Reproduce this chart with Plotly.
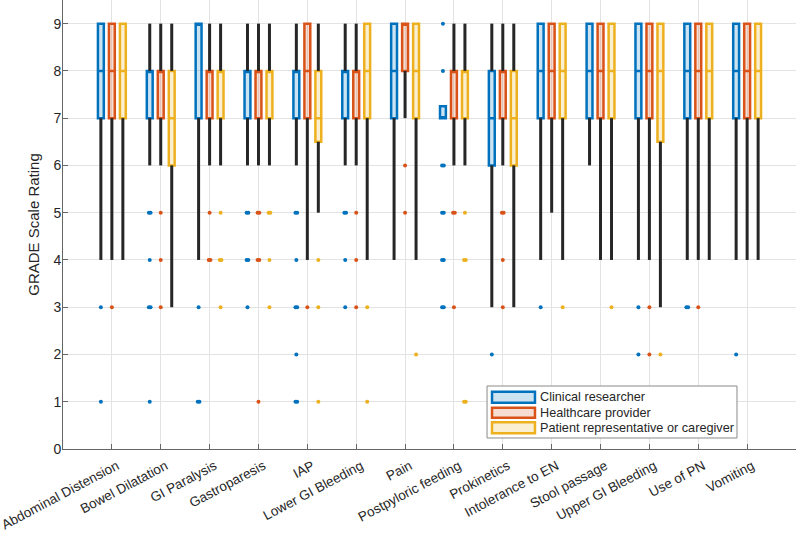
import plotly.graph_objects as go

categories = ["Abdominal Distension", "Bowel Dilatation", "GI Paralysis", "Gastroparesis",
              "IAP", "Lower GI Bleeding", "Pain", "Postpyloric feeding", "Prokinetics",
              "Intolerance to EN", "Stool passage", "Upper GI Bleeding", "Use of PN", "Vomiting"]
groups = ["Clinical researcher", "Healthcare provider", "Patient representative or caregiver"]

# Clinical researcher
cr_q1 = [7, 7, 7, 7, 7, 7, 7, 7, 6, 7, 7, 7, 7, 7]
cr_med = [8, 8, 9, 8, 8, 8, 8, 7, 7, 8, 8, 8, 8, 8]
cr_q3 = [9, 8, 9, 8, 8, 8, 9, 7.25, 8, 9, 9, 9, 9, 9]
cr_wlo = [4, 6, 4, 6, 6, 6, 4, 7, 3, 4, 6, 4, 4, 4]
cr_whi = [9, 9, 9, 9, 9, 9, 9, 7.25, 9, 9, 9, 9, 9, 9]
cr_out = [[3, 1], [5, 5, 4, 3, 3, 1], [3, 1, 1], [5, 5, 4, 4, 3], [5, 5, 4, 3, 3, 2, 1, 1],
          [5, 5, 4, 3], [], [9, 8, 6, 6, 5, 5, 4, 4, 3, 3], [2], [3], [], [3, 2], [3, 3], [2]]

# Healthcare provider
hp_q1 = [7, 7, 7, 7, 7, 7, 8, 7, 7, 7, 7, 7, 7, 7]
hp_med = [8, 8, 8, 8, 8, 8, 9, 8, 8, 8, 8, 8, 8, 8]
hp_q3 = [9, 8, 8, 8, 9, 8, 9, 8, 8, 9, 9, 9, 9, 9]
hp_wlo = [4, 6, 6, 6, 4, 6, 7, 6, 6, 5, 4, 4, 4, 4]
hp_whi = [9, 9, 9, 9, 9, 9, 9, 9, 9, 9, 9, 9, 9, 9]
hp_out = [[3], [5, 4, 3], [5, 4, 4], [5, 5, 4, 4, 1], [3], [5, 4, 3], [6, 5], [5, 5, 3],
          [5, 5, 4, 3], [], [], [3, 2], [3], []]

# Patient representative or caregiver
pr_q1 = [7, 6, 7, 7, 6.5, 7, 7, 7, 6, 7, 7, 6.5, 7, 7]
pr_med = [8, 7, 8, 8, 7, 8, 8, 8, 7, 8, 8, 8, 8, 8]
pr_q3 = [9, 8, 8, 8, 8, 9, 9, 8, 8, 9, 9, 9, 9, 9]
pr_wlo = [4, 3, 6, 6, 5, 4, 4, 6, 3, 4, 4, 3, 4, 4]
pr_whi = [9, 9, 9, 9, 9, 9, 9, 9, 9, 9, 9, 9, 9, 9]
pr_out = [[], [], [5, 4, 4, 3], [5, 5, 4, 3], [4, 3, 1], [3, 1], [2], [5, 4, 4, 1, 1],
          [], [3], [3], [2], [], []]

y_ticks = [0, 1, 2, 3, 4, 5, 6, 7, 8, 9]

colors = ["#0072BD", "#D95319", "#EDB120"]
fills = ["rgba(0,114,189,0.2)", "rgba(217,83,25,0.2)", "rgba(237,177,32,0.2)"]
offsets = [-0.225, 0.0, 0.225]
BOX_W = 0.12
WHISKER = "#262626"

data = [
    (cr_q1, cr_med, cr_q3, cr_wlo, cr_whi, cr_out),
    (hp_q1, hp_med, hp_q3, hp_wlo, hp_whi, hp_out),
    (pr_q1, pr_med, pr_q3, pr_wlo, pr_whi, pr_out),
]

fig = go.Figure()
base = list(range(1, len(categories) + 1))

# whiskers
for gi, (q1, med, q3, wlo, whi, out) in enumerate(data):
    wx, wy = [], []
    for i, b in enumerate(base):
        p = b + offsets[gi]
        if whi[i] > q3[i]:
            wx += [p, p, None]
            wy += [q3[i], whi[i], None]
        if wlo[i] < q1[i]:
            wx += [p, p, None]
            wy += [q1[i], wlo[i], None]
    fig.add_trace(go.Scatter(x=wx, y=wy, mode="lines",
                             line=dict(color=WHISKER, width=3),
                             showlegend=False, hoverinfo="skip"))

# boxes
for gi, (q1, med, q3, wlo, whi, out) in enumerate(data):
    pos = [b + offsets[gi] for b in base]
    fig.add_trace(go.Box(x=pos, q1=q1, median=med, q3=q3,
                         lowerfence=q1, upperfence=q3,
                         width=BOX_W, whiskerwidth=0,
                         line=dict(color=colors[gi], width=2.5),
                         fillcolor=fills[gi], boxpoints=False,
                         name=groups[gi], showlegend=False, hoverinfo="skip"))

# outliers
for gi, (q1, med, q3, wlo, whi, out) in enumerate(data):
    ox, oy = [], []
    for i, b in enumerate(base):
        p = b + offsets[gi]
        vals = out[i]
        for v in sorted(set(vals)):
            n = vals.count(v)
            for k in range(n):
                ox.append(p + (k - (n - 1) / 2) * 0.035)
                oy.append(v)
    fig.add_trace(go.Scatter(x=ox, y=oy, mode="markers",
                             marker=dict(color=colors[gi], size=4),
                             showlegend=False, hoverinfo="skip"))

# manual legend (MATLAB style)
LX0, LX1, LY0, LY1 = 0.5785, 0.9195, 0.0245, 0.1403
shapes = [dict(type="rect", xref="paper", yref="paper", x0=LX0, x1=LX1, y0=LY0, y1=LY1,
               line=dict(color="#8a8a8a", width=1), fillcolor="white", layer="above")]
rows = [(0.1032, 0.1276), (0.0697, 0.0920), (0.0350, 0.0595)]
annotations = []
for gi, (y0, y1) in enumerate(rows):
    shapes.append(dict(type="rect", xref="paper", yref="paper", x0=0.5853, x1=0.6439,
                       y0=y0, y1=y1, line=dict(color=colors[gi], width=2.5),
                       fillcolor=fills[gi], layer="above"))
    annotations.append(dict(xref="paper", yref="paper", x=0.6478, y=(y0 + y1) / 2,
                            text=groups[gi], showarrow=False, xanchor="left",
                            yanchor="middle",
                            font=dict(size=12.7, color="#262626")))

fig.update_layout(
    width=796, height=535,
    margin=dict(l=63, r=0, t=0, b=86),
    plot_bgcolor="white", paper_bgcolor="white",
    font=dict(family="Liberation Sans, Arial, sans-serif", size=13, color="#262626"),
    shapes=shapes, annotations=annotations,
    showlegend=False,
)
fig.update_xaxes(range=[0, 15], tickvals=base, ticktext=categories, tickangle=-28,
                 automargin=False, ticklabeloverflow="allow",
                 ticklabelstandoff=3, ticklabelshift=5,
                 showgrid=True, gridcolor="#e3e3e3", gridwidth=1,
                 showline=True, linecolor="#666666", linewidth=1,
                 ticks="inside", ticklen=5, tickcolor="#666666",
                 zeroline=False, tickfont=dict(size=13.5, color="#262626"))
fig.update_yaxes(range=[0, 9.5], tickvals=y_ticks, showgrid=True, gridcolor="#e3e3e3",
                 automargin=False, ticklabeloverflow="allow", ticklabelstandoff=-2,
                 showline=True, linecolor="#666666", linewidth=1,
                 ticks="inside", ticklen=5, tickcolor="#666666",
                 zeroline=False, tickfont=dict(size=14, color="#262626"),
                 title=dict(text="GRADE Scale Rating", standoff=10,
                            font=dict(size=15, color="#262626")))

fig.write_html("out.html", config={"displayModeBar": False},
               post_script="document.body.style.margin='0px';document.body.style.overflow='hidden';")
